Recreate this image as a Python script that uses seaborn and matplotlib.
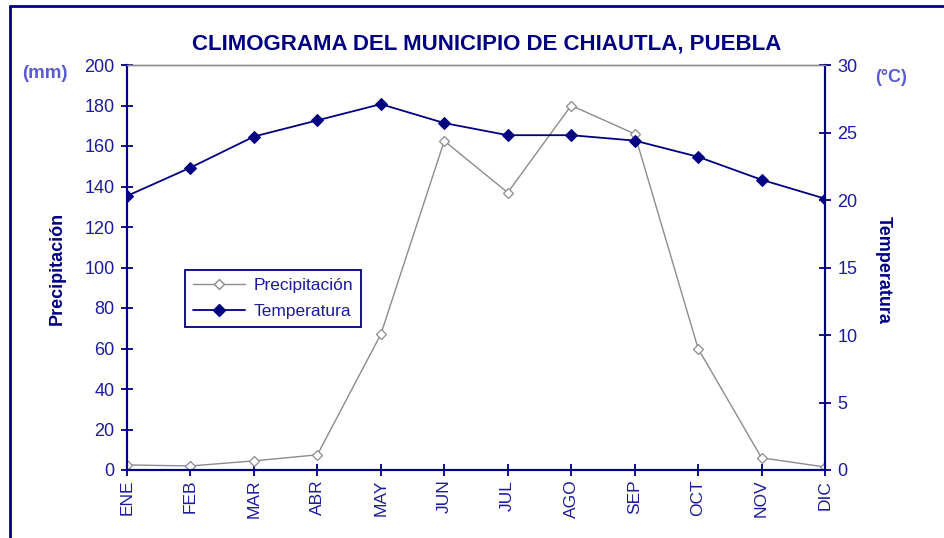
import numpy as np
import pandas as pd
import seaborn as sns
import matplotlib.pyplot as plt
from matplotlib.lines import Line2D

# monthly climate data, Chiautla (Puebla)
months = ['ENE', 'FEB', 'MAR', 'ABR', 'MAY', 'JUN', 'JUL', 'AGO', 'SEP', 'OCT', 'NOV', 'DIC']
precipitacion = [2.5, 2.0, 4.5, 7.5, 67.0, 162.5, 137.0, 180.0, 166.0, 60.0, 6.0, 1.5]
temperatura = [20.3, 22.4, 24.7, 25.9, 27.1, 25.7, 24.8, 24.8, 24.4, 23.2, 21.5, 20.1]

df = pd.DataFrame({'pos': range(len(months)), 'mes': months,
                   'precip': precipitacion, 'temp': temperatura})

sns.set_theme(style='white')
plt.rcParams['font.family'] = ['Liberation Sans', 'DejaVu Sans']

navy = '#000080'
txt = '#1c1c9c'
light = '#5a5ad2'

fig = plt.figure(figsize=(9.44, 5.38), dpi=100)
ax = fig.add_axes([127 / 944, 1 - 470 / 538, 698 / 944, 405 / 538])
ax2 = ax.twinx()

# precipitation on the left axis
sns.lineplot(data=df, x='pos', y='precip', ax=ax, color='#8c8c8c', lw=1.0,
             marker='D', markersize=5.5, markerfacecolor='white',
             markeredgecolor='#8c8c8c', markeredgewidth=0.9)
# temperature on the right axis
sns.lineplot(data=df, x='pos', y='temp', ax=ax2, color=navy, lw=1.3,
             marker='D', markersize=6, markerfacecolor=navy,
             markeredgecolor=navy)

ax.set_xlim(0, len(months) - 1)
ax.set_ylim(0, 200)
ax2.set_ylim(0, 30)
ax.set_yticks(np.arange(0, 201, 20))
ax2.set_yticks(np.arange(0, 31, 5))
ax.set_xticks(df['pos'])
ax.set_xticklabels(months, rotation=90)
ax.set_xlabel('')
ax.set_ylabel('')
ax2.set_ylabel('')

for a in (ax, ax2):
    for side in ('left', 'right', 'bottom'):
        a.spines[side].set_color(navy)
        a.spines[side].set_linewidth(1.5)
    a.spines['top'].set_color('#8c8c8c')
    a.spines['top'].set_linewidth(1.0)
    a.tick_params(direction='inout', length=8, width=1.3, color=navy,
                  labelcolor=txt, labelsize=13, pad=5)
ax.tick_params(axis='x', labelsize=12.5, pad=3)
ax.tick_params(left=True, bottom=True)
ax2.tick_params(right=True)
ax.grid(False)
ax2.grid(False)

# legend
handles = [
    Line2D([], [], color='#8c8c8c', lw=1.0, marker='D', markersize=5.5,
           markerfacecolor='white', markeredgecolor='#8c8c8c'),
    Line2D([], [], color=navy, lw=1.3, marker='D', markersize=6,
           markerfacecolor=navy, markeredgecolor=navy),
]
leg = ax2.legend(handles, ['Precipitación', 'Temperatura'], loc='upper left',
                 bbox_to_anchor=(0.083, 0.493), borderaxespad=0, fancybox=False,
                 framealpha=1, edgecolor=navy, fontsize=12.5, handlelength=3.0,
                 borderpad=0.45, labelspacing=0.6, handletextpad=0.5)
leg.get_frame().set_linewidth(1.3)
for t in leg.get_texts():
    t.set_color(txt)

# titles and labels
fig.text(487 / 944, 1 - 44 / 538, 'CLIMOGRAMA DEL MUNICIPIO DE CHIAUTLA, PUEBLA',
         ha='center', va='center', fontsize=16, fontweight='bold', color=navy)
fig.text(45 / 944, 1 - 74 / 538, '(mm)', ha='center', va='center',
         fontsize=13.5, fontweight='bold', color=light)
fig.text(891 / 944, 1 - 77 / 538, '(°C)', ha='center', va='center',
         fontsize=13, fontweight='bold', color=light)
fig.text(57 / 944, 1 - 268 / 538, 'Precipitación', rotation=90, ha='center',
         va='center', fontsize=13, fontweight='bold', color=navy)
fig.text(883 / 944, 1 - 270 / 538, 'Temperatura', rotation=-90, ha='center',
         va='center', fontsize=13, fontweight='bold', color=navy)

# outer frame (only top and left edges visible in the crop)
fig.add_artist(Line2D([10 / 944, 10 / 944], [0, 1 - 6 / 538], color=navy, lw=2,
                      transform=fig.transFigure))
fig.add_artist(Line2D([10 / 944, 1], [1 - 6 / 538, 1 - 6 / 538], color=navy, lw=2,
                      transform=fig.transFigure))

fig.savefig('out.png', dpi=100)
